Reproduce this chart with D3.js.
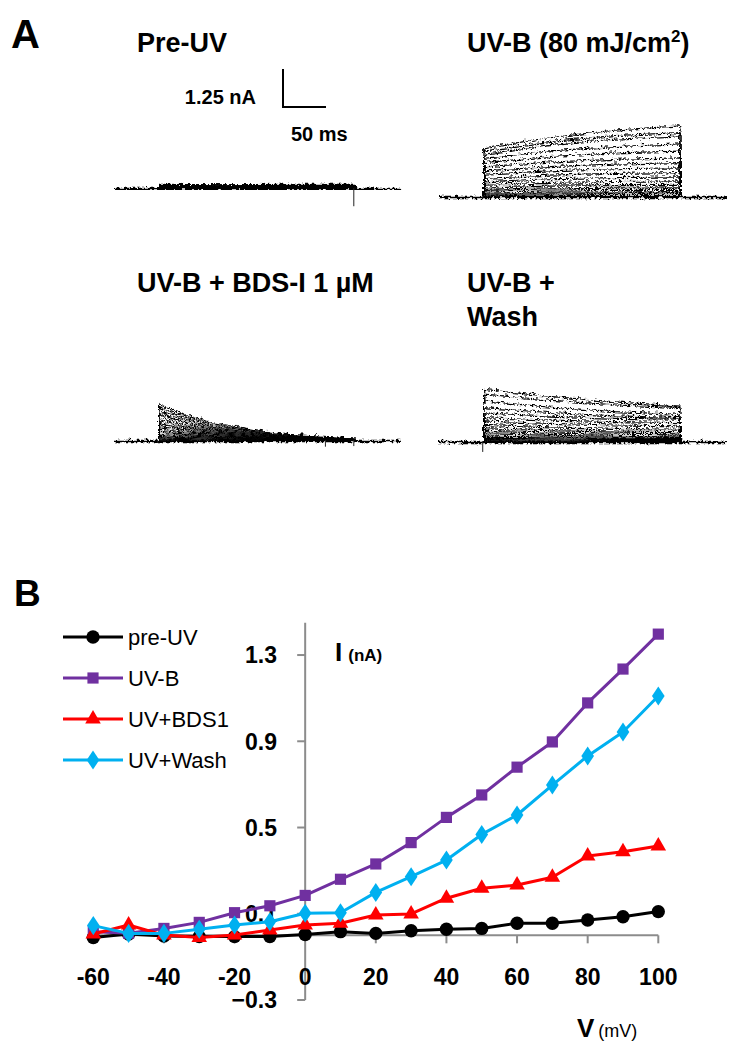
<!DOCTYPE html>
<html>
<head>
<meta charset="utf-8">
<script src="https://cdn.jsdelivr.net/npm/d3@7"></script>
<style>
  html, body { margin: 0; padding: 0; background: #fff; }
  svg { display: block; font-family: "Liberation Sans", Arial, sans-serif; }
</style>
</head>
<body>
<svg id="chart" width="738" height="1050"></svg>
<script>
// ---------------- DATA ----------------
// Panel A: current traces (nA) at key times (ms after step onset)
const stepKeys = [0, 76, 152, 228];
const bdsKeys = [0, 27, 62, 108, 143, 228];
const preStart = -52, stepEnd = 228, postEnd = 281;

const preUVTraces = [
  [0.15, 0.14, 0.15, 0.15], [0.14, 0.13, 0.14, 0.14], [0.13, 0.12, 0.13, 0.13],
  [0.12, 0.12, 0.11, 0.12], [0.11, 0.10, 0.11, 0.11], [0.10, 0.09, 0.10, 0.10],
  [0.09, 0.08, 0.09, 0.09], [0.08, 0.07, 0.08, 0.08], [0.07, 0.06, 0.07, 0.07],
  [0.06, 0.05, 0.06, 0.06], [0.05, 0.05, 0.05, 0.05], [0.04, 0.04, 0.04, 0.04],
  [0.03, 0.03, 0.03, 0.03], [0.02, 0.03, 0.02, 0.02], [0.02, 0.01, 0.02, 0.02],
  [0.01, 0.01, 0.01, 0.01], [0.00, 0.00, 0.00, 0.00]
];
const uvbTraces = [
  [1.62, 1.95, 2.20, 2.34], [1.51, 1.82, 2.02, 2.12], [1.40, 1.72, 1.90, 2.01],
  [1.27, 1.52, 1.66, 1.75], [1.13, 1.33, 1.45, 1.51], [0.99, 1.15, 1.24, 1.29],
  [0.86, 1.00, 1.08, 1.13], [0.75, 0.86, 0.93, 0.96], [0.61, 0.72, 0.78, 0.80],
  [0.50, 0.60, 0.64, 0.66], [0.42, 0.48, 0.51, 0.53], [0.33, 0.39, 0.41, 0.42],
  [0.25, 0.30, 0.32, 0.33], [0.20, 0.23, 0.25, 0.25], [0.13, 0.16, 0.17, 0.18],
  [0.09, 0.10, 0.11, 0.11], [0.04, 0.05, 0.05, 0.05]
];
const bdsTraces = [
  [1.23, 0.90, 0.60, 0.39, 0.23, 0.10], [1.12, 0.82, 0.55, 0.35, 0.21, 0.09],
  [1.00, 0.74, 0.49, 0.31, 0.19, 0.08], [0.90, 0.66, 0.44, 0.28, 0.17, 0.07],
  [0.80, 0.58, 0.39, 0.25, 0.15, 0.07], [0.70, 0.51, 0.34, 0.22, 0.13, 0.06],
  [0.61, 0.45, 0.30, 0.19, 0.12, 0.05], [0.52, 0.38, 0.26, 0.16, 0.10, 0.05],
  [0.44, 0.32, 0.22, 0.14, 0.09, 0.04], [0.36, 0.27, 0.18, 0.12, 0.08, 0.04],
  [0.29, 0.22, 0.15, 0.10, 0.06, 0.03], [0.22, 0.17, 0.12, 0.08, 0.05, 0.03],
  [0.16, 0.12, 0.09, 0.06, 0.04, 0.02], [0.11, 0.08, 0.06, 0.04, 0.03, 0.02],
  [0.07, 0.05, 0.04, 0.03, 0.02, 0.01], [0.04, 0.03, 0.02, 0.02, 0.01, 0.01],
  [0.01, 0.01, 0.01, 0.01, 0.00, 0.00]
];
const washTraces = [
  [1.73, 1.50, 1.32, 1.18], [1.57, 1.38, 1.22, 1.13], [1.35, 1.15, 1.00, 0.91],
  [1.13, 0.97, 0.86, 0.80], [0.96, 0.85, 0.78, 0.75], [0.80, 0.72, 0.67, 0.64],
  [0.69, 0.61, 0.56, 0.53], [0.58, 0.50, 0.45, 0.42], [0.47, 0.41, 0.36, 0.34],
  [0.38, 0.33, 0.29, 0.27], [0.31, 0.25, 0.22, 0.20], [0.23, 0.19, 0.16, 0.15],
  [0.16, 0.14, 0.12, 0.12], [0.12, 0.10, 0.08, 0.08], [0.08, 0.06, 0.05, 0.05],
  [0.04, 0.03, 0.03, 0.03], [0.01, 0.01, 0.01, 0.01]
];
// capacitive artifacts: [time ms, current nA]
const preUVArtifacts = [[228, -0.60]];
const uvbArtifacts = [[0, -0.08]];
const bdsArtifacts = [[195, -0.22], [228, -0.20], [0, -0.10]];
const washArtifacts = [[0, -0.36]];

const traceTitles = ["Pre-UV", "UV-B + BDS-I 1 µM"];
const scaleBarNA = 1.25, scaleBarMS = 50;

// Panel B: I-V data
const voltages = [-60, -50, -40, -30, -20, -10, 0, 10, 20, 30, 40, 50, 60, 70, 80, 90, 100];
const preUV   = [-0.01, 0.006, -0.003, -0.006, -0.006, -0.006, 0.004, 0.017, 0.009, 0.021, 0.028, 0.032, 0.056, 0.056, 0.071, 0.086, 0.11];
const uvB     = [0.017, 0.010, 0.032, 0.060, 0.105, 0.137, 0.185, 0.260, 0.331, 0.430, 0.547, 0.651, 0.780, 0.897, 1.078, 1.235, 1.397];
const uvBDS1  = [0.006, 0.048, 0.001, -0.010, 0.001, 0.025, 0.048, 0.056, 0.094, 0.099, 0.172, 0.218, 0.233, 0.269, 0.368, 0.388, 0.414];
const uvWash  = [0.045, 0.009, 0.009, 0.028, 0.048, 0.063, 0.102, 0.105, 0.199, 0.272, 0.349, 0.468, 0.558, 0.697, 0.832, 0.943, 1.110];
const seriesNames = ["pre-UV", "UV-B", "UV+BDS1", "UV+Wash"];
const seriesColors = ["#000000", "#7030A0", "#FF0000", "#00B0F0"];
const seriesShapes = ["circle", "square", "triangle", "diamond"];
const yTicks = [-0.3, 0.1, 0.5, 0.9, 1.3];
const xTicks = [-60, -40, -20, 0, 20, 40, 60, 80, 100];

// ---------------- DRAW ----------------
const svg = d3.select("#chart");
const defs = svg.append("defs");
const filt = defs.append("filter").attr("id", "noise")
  .attr("x", "-5%").attr("y", "-30%").attr("width", "110%").attr("height", "160%");
filt.append("feTurbulence").attr("type", "turbulence")
  .attr("baseFrequency", "0.22 0.22").attr("numOctaves", 2).attr("seed", 5).attr("result", "t");
filt.append("feDisplacementMap").attr("in", "SourceGraphic").attr("in2", "t")
  .attr("scale", 5).attr("xChannelSelector", "R").attr("yChannelSelector", "G");

// Panel labels
svg.append("text").attr("x", 11).attr("y", 48).attr("font-size", 40).attr("font-weight", "bold").text("A");
svg.append("text").attr("x", 14).attr("y", 606).attr("font-size", 37).attr("font-weight", "bold").text("B");

// Time / current scales for the traces (px per unit shared)
const pxPerMs = 0.86, pxPerNA = 30.4;

function drawTraces(x0, base, keys, traces, artifacts) {
  const tx = d3.scaleLinear().domain([preStart, postEnd]).range([x0, x0 + (postEnd - preStart) * pxPerMs]);
  const iy = d3.scaleLinear().domain([0, 1]).range([base, base - pxPerNA]);
  const line = d3.line().x(d => tx(d[0])).y(d => iy(d[1]));
  const g = svg.append("g").attr("filter", "url(#noise)");
  // baseline
  g.append("path").attr("d", line([[preStart, 0], [postEnd, 0]]))
    .attr("fill", "none").attr("stroke", "#000").attr("stroke-width", 2.4);
  traces.forEach(tr => {
    const pts = [[preStart, 0], [0, 0]];
    keys.forEach((k, i) => pts.push([k, tr[i]]));
    pts.push([stepEnd, 0], [postEnd, 0]);
    g.append("path").attr("d", line(pts)).attr("fill", "none")
      .attr("stroke", "#000").attr("stroke-width", 1.2);
  });
  artifacts.forEach(a => {
    svg.append("path").attr("d", line([[a[0], 0], [a[0], a[1]]]))
      .attr("stroke", "#222").attr("stroke-width", 1);
  });
  return { tx, iy };
}

drawTraces(113, 188, stepKeys, preUVTraces, preUVArtifacts);
drawTraces(438, 196, stepKeys, uvbTraces, uvbArtifacts);
drawTraces(113, 440, bdsKeys, bdsTraces, bdsArtifacts);
drawTraces(438, 441, stepKeys, washTraces, washArtifacts);

// Titles
const titleSize = 27;
svg.append("text").attr("x", 137).attr("y", 52).attr("font-size", titleSize).attr("font-weight", "bold").text(traceTitles[0]);
const t2 = svg.append("text").attr("x", 467).attr("y", 52).attr("font-size", titleSize).attr("font-weight", "bold");
t2.append("tspan").text("UV-B (80 mJ/cm");
t2.append("tspan").attr("font-size", 17).attr("dy", -10).text("2");
t2.append("tspan").attr("dy", 10).text(")");
svg.append("text").attr("x", 137).attr("y", 292).attr("font-size", titleSize).attr("font-weight", "bold").text(traceTitles[1]);
svg.append("text").attr("x", 467).attr("y", 292).attr("font-size", titleSize).attr("font-weight", "bold").text("UV-B +");
svg.append("text").attr("x", 467).attr("y", 326).attr("font-size", titleSize).attr("font-weight", "bold").text("Wash");

// Scale bar
const sbx = d3.scaleLinear().domain([0, scaleBarMS]).range([283, 283 + scaleBarMS * pxPerMs]);
const sby = d3.scaleLinear().domain([0, scaleBarNA]).range([107, 107 - scaleBarNA * pxPerNA]);
svg.append("path")
  .attr("d", d3.line().x(d => sbx(d[0])).y(d => sby(d[1]))([[0, scaleBarNA], [0, 0], [scaleBarMS, 0]]))
  .attr("fill", "none").attr("stroke", "#000").attr("stroke-width", 2);
svg.append("text").attr("x", 256).attr("y", 104).attr("text-anchor", "end").attr("font-size", 20).attr("font-weight", "bold").text(scaleBarNA + " nA");
svg.append("text").attr("x", 291).attr("y", 141).attr("font-size", 20).attr("font-weight", "bold").text(scaleBarMS + " ms");

// ---------- Panel B ----------
const x = d3.scaleLinear().domain([-60, 100]).range([93.3, 658.3]);
const y = d3.scaleLinear().domain([-0.3, 1.45]).range([1000, 622.7]);
const axisColor = "#8c8c8c";

// y axis
svg.append("line").attr("x1", x(0)).attr("x2", x(0)).attr("y1", y(1.45)).attr("y2", y(-0.3))
  .attr("stroke", axisColor).attr("stroke-width", 2);
svg.selectAll(".ytick").data(yTicks).enter().append("line")
  .attr("x1", x(0) - 8).attr("x2", x(0)).attr("y1", d => y(d)).attr("y2", d => y(d))
  .attr("stroke", axisColor).attr("stroke-width", 2);
svg.selectAll(".ylab").data(yTicks).enter().append("text")
  .attr("x", 277).attr("y", d => y(d)).attr("dy", "0.36em").attr("text-anchor", "end")
  .attr("font-size", 23).attr("font-weight", "bold").text(d => d3.format(".1f")(d));

// x axis
svg.append("line").attr("x1", x(-60)).attr("x2", x(100)).attr("y1", y(0)).attr("y2", y(0))
  .attr("stroke", axisColor).attr("stroke-width", 2);
svg.selectAll(".xtick").data(xTicks.filter(d => d !== 0)).enter().append("line")
  .attr("x1", d => x(d)).attr("x2", d => x(d)).attr("y1", y(0)).attr("y2", y(0) + 8)
  .attr("stroke", axisColor).attr("stroke-width", 2);
svg.selectAll(".xlab").data(xTicks).enter().append("text")
  .attr("x", d => x(d)).attr("y", 985).attr("text-anchor", "middle")
  .attr("font-size", 23).attr("font-weight", "bold").text(d => d);

// axis titles
const it = svg.append("text").attr("x", 335).attr("y", 661).attr("font-weight", "bold");
it.append("tspan").attr("font-size", 26).text("I");
it.append("tspan").attr("font-size", 17).attr("dx", 6).text("(nA)");
const vt = svg.append("text").attr("x", 577).attr("y", 1037);
vt.append("tspan").attr("font-size", 26).attr("font-weight", "bold").text("V");
vt.append("tspan").attr("font-size", 18).attr("dx", 4).text("(mV)");

// series
const allSeries = [preUV, uvB, uvBDS1, uvWash];
const symbolTypes = { circle: d3.symbolCircle, square: d3.symbolSquare, triangle: d3.symbolTriangle, diamond: d3.symbolDiamond };
const symbolSizes = { circle: 140, square: 125, triangle: 105, diamond: 105 };
const lineGen = d3.line().x((d, i) => x(voltages[i])).y(d => y(d));

allSeries.forEach((vals, si) => {
  const col = seriesColors[si], shp = seriesShapes[si];
  svg.append("path").attr("d", lineGen(vals)).attr("fill", "none")
    .attr("stroke", col).attr("stroke-width", 3).attr("stroke-linejoin", "round");
  const sym = d3.symbol().type(symbolTypes[shp]).size(symbolSizes[shp]);
  svg.selectAll(".m" + si).data(vals).enter().append("path")
    .attr("d", sym)
    .attr("transform", (d, i) => `translate(${x(voltages[i])},${y(d)})` + (shp === "diamond" ? " scale(1.15,1)" : ""))
    .attr("fill", col);
});

// legend
const legendRows = [637, 678, 719, 760];
seriesNames.forEach((name, si) => {
  const ly = legendRows[si];
  const col = seriesColors[si], shp = seriesShapes[si];
  svg.append("line").attr("x1", 63).attr("x2", 123).attr("y1", ly).attr("y2", ly)
    .attr("stroke", col).attr("stroke-width", 3);
  svg.append("path").attr("d", d3.symbol().type(symbolTypes[shp]).size(symbolSizes[shp]))
    .attr("transform", `translate(93,${ly})` + (shp === "diamond" ? " scale(1.15,1)" : "")).attr("fill", col);
  svg.append("text").attr("x", 128).attr("y", ly).attr("dy", "0.35em")
    .attr("font-size", 22).text(name);
});
</script>
</body>
</html>
